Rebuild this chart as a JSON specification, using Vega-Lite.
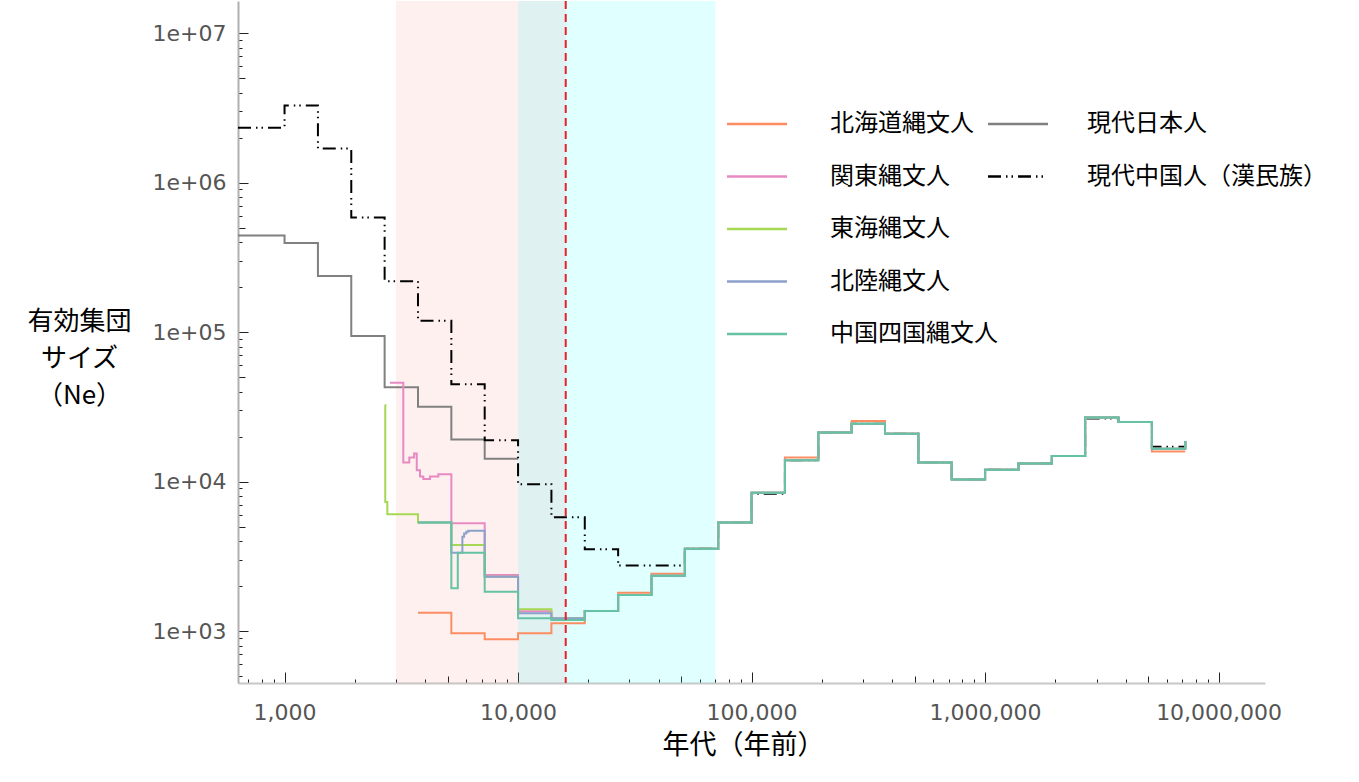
{
  "$schema": "https://vega.github.io/schema/vega-lite/v6.json",
  "width": 1027,
  "height": 682,
  "autosize": {"type": "none"},
  "padding": {"left": 238, "top": 1, "right": 94, "bottom": 99},
  "background": "white",
  "config": {"view": {"stroke": null}},
  "datasets": {
    "bands": [
      {"start": 3000, "end": 16000, "band": "pink"},
      {"start": 10000, "end": 70000, "band": "cyan"}
    ],
    "era": [{"year": 16000}],
    "modern": [
      {"group": "現代日本人", "year": 632, "ne": 443000},
      {"group": "現代日本人", "year": 1000, "ne": 395000},
      {"group": "現代日本人", "year": 1390, "ne": 237000},
      {"group": "現代日本人", "year": 1931, "ne": 94000},
      {"group": "現代日本人", "year": 2683, "ne": 42700},
      {"group": "現代日本人", "year": 3728, "ne": 31600},
      {"group": "現代日本人", "year": 5180, "ne": 19100},
      {"group": "現代日本人", "year": 7197, "ne": 14200},
      {"group": "現代日本人", "year": 10000, "ne": 14200},
      {"group": "現代中国人（漢民族）", "year": 632, "ne": 2330000},
      {"group": "現代中国人（漢民族）", "year": 1000, "ne": 3280000},
      {"group": "現代中国人（漢民族）", "year": 1390, "ne": 1690000},
      {"group": "現代中国人（漢民族）", "year": 1931, "ne": 585000},
      {"group": "現代中国人（漢民族）", "year": 2683, "ne": 219000},
      {"group": "現代中国人（漢民族）", "year": 3728, "ne": 119000},
      {"group": "現代中国人（漢民族）", "year": 5180, "ne": 44700},
      {"group": "現代中国人（漢民族）", "year": 7197, "ne": 18900},
      {"group": "現代中国人（漢民族）", "year": 10000, "ne": 9600},
      {"group": "現代中国人（漢民族）", "year": 13895, "ne": 5760},
      {"group": "現代中国人（漢民族）", "year": 19307, "ne": 3520},
      {"group": "現代中国人（漢民族）", "year": 26827, "ne": 2740},
      {"group": "現代中国人（漢民族）", "year": 37276, "ne": 2740},
      {"group": "現代中国人（漢民族）", "year": 51795, "ne": 3550},
      {"group": "現代中国人（漢民族）", "year": 71969, "ne": 5330},
      {"group": "現代中国人（漢民族）", "year": 100000, "ne": 8300},
      {"group": "現代中国人（漢民族）", "year": 138950, "ne": 13900},
      {"group": "現代中国人（漢民族）", "year": 193070, "ne": 21300},
      {"group": "現代中国人（漢民族）", "year": 268270, "ne": 24400},
      {"group": "現代中国人（漢民族）", "year": 372760, "ne": 20900},
      {"group": "現代中国人（漢民族）", "year": 517950, "ne": 13400},
      {"group": "現代中国人（漢民族）", "year": 719690, "ne": 10300},
      {"group": "現代中国人（漢民族）", "year": 1000000, "ne": 12000},
      {"group": "現代中国人（漢民族）", "year": 1389500, "ne": 13200},
      {"group": "現代中国人（漢民族）", "year": 1930700, "ne": 14800},
      {"group": "現代中国人（漢民族）", "year": 2682700, "ne": 26400},
      {"group": "現代中国人（漢民族）", "year": 3727600, "ne": 25000},
      {"group": "現代中国人（漢民族）", "year": 5179500, "ne": 17100},
      {"group": "現代中国人（漢民族）", "year": 7196900, "ne": 18700}
    ],
    "jomon": [
      {"group": "北海道縄文人", "year": 3728, "ne": 1325},
      {"group": "北海道縄文人", "year": 5180, "ne": 966},
      {"group": "北海道縄文人", "year": 7197, "ne": 880},
      {"group": "北海道縄文人", "year": 10000, "ne": 966},
      {"group": "北海道縄文人", "year": 13895, "ne": 1125},
      {"group": "北海道縄文人", "year": 19307, "ne": 1362},
      {"group": "北海道縄文人", "year": 26827, "ne": 1800},
      {"group": "北海道縄文人", "year": 37276, "ne": 2420},
      {"group": "北海道縄文人", "year": 51795, "ne": 3550},
      {"group": "北海道縄文人", "year": 71969, "ne": 5330},
      {"group": "北海道縄文人", "year": 100000, "ne": 8400},
      {"group": "北海道縄文人", "year": 138950, "ne": 14500},
      {"group": "北海道縄文人", "year": 193070, "ne": 21300},
      {"group": "北海道縄文人", "year": 268270, "ne": 25400},
      {"group": "北海道縄文人", "year": 372760, "ne": 20900},
      {"group": "北海道縄文人", "year": 517950, "ne": 13400},
      {"group": "北海道縄文人", "year": 719690, "ne": 10300},
      {"group": "北海道縄文人", "year": 1000000, "ne": 12000},
      {"group": "北海道縄文人", "year": 1389500, "ne": 13200},
      {"group": "北海道縄文人", "year": 1930700, "ne": 14800},
      {"group": "北海道縄文人", "year": 2682700, "ne": 26800},
      {"group": "北海道縄文人", "year": 3727600, "ne": 25000},
      {"group": "北海道縄文人", "year": 5179500, "ne": 15900},
      {"group": "北海道縄文人", "year": 7196900, "ne": 15900},

      {"group": "関東縄文人", "year": 2830, "ne": 45800},
      {"group": "関東縄文人", "year": 3225, "ne": 13400},
      {"group": "関東縄文人", "year": 3422, "ne": 14500},
      {"group": "関東縄文人", "year": 3589, "ne": 15400},
      {"group": "関東縄文人", "year": 3683, "ne": 11900},
      {"group": "関東縄文人", "year": 3804, "ne": 10800},
      {"group": "関東縄文人", "year": 3929, "ne": 10400},
      {"group": "関東縄文人", "year": 4197, "ne": 10800},
      {"group": "関東縄文人", "year": 4557, "ne": 11200},
      {"group": "関東縄文人", "year": 5180, "ne": 5250},
      {"group": "関東縄文人", "year": 7197, "ne": 2370},
      {"group": "関東縄文人", "year": 10000, "ne": 1355},
      {"group": "関東縄文人", "year": 13895, "ne": 1200},
      {"group": "関東縄文人", "year": 19307, "ne": 1362},
      {"group": "関東縄文人", "year": 26827, "ne": 1742},
      {"group": "関東縄文人", "year": 37276, "ne": 2340},
      {"group": "関東縄文人", "year": 51795, "ne": 3550},
      {"group": "関東縄文人", "year": 71969, "ne": 5330},
      {"group": "関東縄文人", "year": 100000, "ne": 8400},
      {"group": "関東縄文人", "year": 138950, "ne": 13900},
      {"group": "関東縄文人", "year": 193070, "ne": 21300},
      {"group": "関東縄文人", "year": 268270, "ne": 24400},
      {"group": "関東縄文人", "year": 372760, "ne": 20900},
      {"group": "関東縄文人", "year": 517950, "ne": 13400},
      {"group": "関東縄文人", "year": 719690, "ne": 10300},
      {"group": "関東縄文人", "year": 1000000, "ne": 12000},
      {"group": "関東縄文人", "year": 1389500, "ne": 13200},
      {"group": "関東縄文人", "year": 1930700, "ne": 14800},
      {"group": "関東縄文人", "year": 2682700, "ne": 26800},
      {"group": "関東縄文人", "year": 3727600, "ne": 25000},
      {"group": "関東縄文人", "year": 5179500, "ne": 16600},
      {"group": "関東縄文人", "year": 7196900, "ne": 18700},

      {"group": "東海縄文人", "year": 2690, "ne": 32500},
      {"group": "東海縄文人", "year": 2700, "ne": 7300},
      {"group": "東海縄文人", "year": 2756, "ne": 6040},
      {"group": "東海縄文人", "year": 3728, "ne": 5330},
      {"group": "東海縄文人", "year": 5180, "ne": 3760},
      {"group": "東海縄文人", "year": 7197, "ne": 2310},
      {"group": "東海縄文人", "year": 10000, "ne": 1396},
      {"group": "東海縄文人", "year": 13895, "ne": 1216},
      {"group": "東海縄文人", "year": 19307, "ne": 1362},
      {"group": "東海縄文人", "year": 26827, "ne": 1742},
      {"group": "東海縄文人", "year": 37276, "ne": 2340},
      {"group": "東海縄文人", "year": 51795, "ne": 3550},
      {"group": "東海縄文人", "year": 71969, "ne": 5330},
      {"group": "東海縄文人", "year": 100000, "ne": 8400},
      {"group": "東海縄文人", "year": 138950, "ne": 13900},
      {"group": "東海縄文人", "year": 193070, "ne": 21300},
      {"group": "東海縄文人", "year": 268270, "ne": 24400},
      {"group": "東海縄文人", "year": 372760, "ne": 20900},
      {"group": "東海縄文人", "year": 517950, "ne": 13400},
      {"group": "東海縄文人", "year": 719690, "ne": 10300},
      {"group": "東海縄文人", "year": 1000000, "ne": 12000},
      {"group": "東海縄文人", "year": 1389500, "ne": 13200},
      {"group": "東海縄文人", "year": 1930700, "ne": 14800},
      {"group": "東海縄文人", "year": 2682700, "ne": 26800},
      {"group": "東海縄文人", "year": 3727600, "ne": 25000},
      {"group": "東海縄文人", "year": 5179500, "ne": 16600},
      {"group": "東海縄文人", "year": 7196900, "ne": 18700},

      {"group": "北陸縄文人", "year": 3728, "ne": 5330},
      {"group": "北陸縄文人", "year": 5180, "ne": 3340},
      {"group": "北陸縄文人", "year": 5775, "ne": 4270},
      {"group": "北陸縄文人", "year": 5874, "ne": 4500},
      {"group": "北陸縄文人", "year": 6000, "ne": 4610},
      {"group": "北陸縄文人", "year": 6124, "ne": 4690},
      {"group": "北陸縄文人", "year": 7197, "ne": 2310},
      {"group": "北陸縄文人", "year": 10000, "ne": 1313},
      {"group": "北陸縄文人", "year": 13895, "ne": 1216},
      {"group": "北陸縄文人", "year": 19307, "ne": 1362},
      {"group": "北陸縄文人", "year": 26827, "ne": 1742},
      {"group": "北陸縄文人", "year": 37276, "ne": 2340},
      {"group": "北陸縄文人", "year": 51795, "ne": 3550},
      {"group": "北陸縄文人", "year": 71969, "ne": 5330},
      {"group": "北陸縄文人", "year": 100000, "ne": 8400},
      {"group": "北陸縄文人", "year": 138950, "ne": 13900},
      {"group": "北陸縄文人", "year": 193070, "ne": 21300},
      {"group": "北陸縄文人", "year": 268270, "ne": 24400},
      {"group": "北陸縄文人", "year": 372760, "ne": 20900},
      {"group": "北陸縄文人", "year": 517950, "ne": 13400},
      {"group": "北陸縄文人", "year": 719690, "ne": 10300},
      {"group": "北陸縄文人", "year": 1000000, "ne": 12000},
      {"group": "北陸縄文人", "year": 1389500, "ne": 13200},
      {"group": "北陸縄文人", "year": 1930700, "ne": 14800},
      {"group": "北陸縄文人", "year": 2682700, "ne": 26800},
      {"group": "北陸縄文人", "year": 3727600, "ne": 25000},
      {"group": "北陸縄文人", "year": 5179500, "ne": 16600},
      {"group": "北陸縄文人", "year": 7196900, "ne": 18700},

      {"group": "中国四国縄文人", "year": 3728, "ne": 5330},
      {"group": "中国四国縄文人", "year": 5180, "ne": 1930},
      {"group": "中国四国縄文人", "year": 5520, "ne": 3340},
      {"group": "中国四国縄文人", "year": 7197, "ne": 1830},
      {"group": "中国四国縄文人", "year": 10000, "ne": 1216},
      {"group": "中国四国縄文人", "year": 13895, "ne": 1185},
      {"group": "中国四国縄文人", "year": 19307, "ne": 1362},
      {"group": "中国四国縄文人", "year": 26827, "ne": 1742},
      {"group": "中国四国縄文人", "year": 37276, "ne": 2340},
      {"group": "中国四国縄文人", "year": 51795, "ne": 3550},
      {"group": "中国四国縄文人", "year": 71969, "ne": 5330},
      {"group": "中国四国縄文人", "year": 100000, "ne": 8400},
      {"group": "中国四国縄文人", "year": 138950, "ne": 13900},
      {"group": "中国四国縄文人", "year": 193070, "ne": 21300},
      {"group": "中国四国縄文人", "year": 268270, "ne": 24400},
      {"group": "中国四国縄文人", "year": 372760, "ne": 20900},
      {"group": "中国四国縄文人", "year": 517950, "ne": 13400},
      {"group": "中国四国縄文人", "year": 719690, "ne": 10300},
      {"group": "中国四国縄文人", "year": 1000000, "ne": 12000},
      {"group": "中国四国縄文人", "year": 1389500, "ne": 13200},
      {"group": "中国四国縄文人", "year": 1930700, "ne": 14800},
      {"group": "中国四国縄文人", "year": 2682700, "ne": 26800},
      {"group": "中国四国縄文人", "year": 3727600, "ne": 25000},
      {"group": "中国四国縄文人", "year": 5179500, "ne": 16600},
      {"group": "中国四国縄文人", "year": 7196900, "ne": 18700}
    ]
  },
  "layer": [
    {
      "data": {"name": "bands"},
      "mark": {"type": "rect"},
      "encoding": {
        "x": {
          "field": "start", "type": "quantitative",
          "scale": {"type": "log", "domain": [632, 15800000], "nice": false},
          "axis": {
            "values": [700, 800, 900, 1000, 2000, 3000, 4000, 5000, 6000, 7000, 8000, 9000, 10000, 20000, 30000, 40000, 50000, 60000, 70000, 80000, 90000, 100000, 200000, 300000, 400000, 500000, 600000, 700000, 800000, 900000, 1000000, 2000000, 3000000, 4000000, 5000000, 6000000, 7000000, 8000000, 9000000, 10000000],
            "labelExpr": "indexof([1000, 10000, 100000, 1000000, 10000000], datum.value) >= 0 ? format(datum.value, ',') : ''",
            "tickSize": {"condition": [
              {"test": "indexof([1000, 10000, 100000, 1000000, 10000000], datum.value) >= 0", "value": -11},
              {"test": "indexof([5000, 50000, 500000, 5000000], datum.value) >= 0", "value": -7}
            ], "value": -4},
            "tickColor": "#222", "tickWidth": 1,
            "domainColor": "#c8c8c8", "domainWidth": 2,
            "grid": false,
            "labelFont": "DejaVu Sans", "labelFontSize": 22, "labelColor": "#555",
            "labelPadding": 30, "labelFlush": false, "labelOverlap": false, "labelBound": false,
            "title": "年代（年前）", "titleFont": "Noto Sans CJK JP", "titleFontSize": 27, "titleFontWeight": "normal", "titleColor": "#000",
            "titleAlign": "center", "titleBaseline": "top", "titleX": 505, "titleY": 49
          }
        },
        "x2": {"field": "end"},
        "color": {"field": "band", "type": "nominal", "scale": {"domain": ["pink", "cyan"], "range": ["#ff0000", "#00ffff"]}, "legend": null},
        "opacity": {"field": "band", "type": "nominal", "scale": {"domain": ["pink", "cyan"], "range": [0.06, 0.12]}, "legend": null}
      }
    },
    {
      "data": {"name": "modern"},
      "mark": {"type": "line", "interpolate": "step-after", "strokeWidth": 2, "clip": true},
      "encoding": {
        "x": {"field": "year", "type": "quantitative", "scale": {"type": "log", "domain": [632, 15800000], "nice": false}},
        "y": {
          "field": "ne", "type": "quantitative",
          "scale": {"type": "log", "domain": [449, 16400000], "nice": false},
          "axis": {
            "values": [500, 600, 700, 800, 900, 1000, 2000, 3000, 4000, 5000, 6000, 7000, 8000, 9000, 10000, 20000, 30000, 40000, 50000, 60000, 70000, 80000, 90000, 100000, 200000, 300000, 400000, 500000, 600000, 700000, 800000, 900000, 1000000, 2000000, 3000000, 4000000, 5000000, 6000000, 7000000, 8000000, 9000000, 10000000],
            "labelExpr": "indexof([1000, 10000, 100000, 1000000, 10000000], datum.value) >= 0 ? '1e+0' + round(log(datum.value) / LN10) : ''",
            "tickSize": {"condition": [
              {"test": "indexof([1000, 10000, 100000, 1000000, 10000000], datum.value) >= 0", "value": -10},
              {"test": "indexof([5000, 50000, 500000, 5000000], datum.value) >= 0", "value": -7}
            ], "value": -4},
            "tickColor": "#222", "tickWidth": 1,
            "domainColor": "#b0b0b0", "domainWidth": 2,
            "grid": false,
            "labelFont": "DejaVu Sans", "labelFontSize": 22, "labelColor": "#555",
            "labelPadding": 22, "labelFlush": false, "labelOverlap": false, "labelBound": false,
            "title": ["有効集団", "サイズ", "（Ne）"], "titleFont": "Noto Sans CJK JP", "titleFontSize": 26, "titleFontWeight": "normal", "titleColor": "#000",
            "titleAngle": 0, "titleAlign": "center", "titleBaseline": "top", "titleX": -159, "titleY": 307, "titleLineHeight": 37
          }
        },
        "color": {
          "field": "group", "type": "nominal",
          "scale": {"domain": ["現代日本人", "現代中国人（漢民族）"], "range": ["#808080", "#000000"]},
          "legend": {
            "title": null, "orient": "none", "legendX": 768, "legendY": 111, "padding": 0,
            "symbolType": "M-3,0H3", "symbolSize": 400, "symbolStrokeWidth": 2.5,
            "labelFont": "Noto Sans CJK JP", "labelFontSize": 24, "labelColor": "#000", "labelOffset": 57, "rowPadding": 28.5, "labelLimit": 400
          }
        },
        "strokeDash": {
          "field": "group", "type": "nominal",
          "scale": {"domain": ["現代日本人", "現代中国人（漢民族）"], "range": [[1, 0], [13, 5, 1.5, 4, 1.5, 5]]},
          "legend": {
            "title": null, "orient": "none", "legendX": 768, "legendY": 111, "padding": 0,
            "symbolType": "M-3,0H3", "symbolSize": 400, "symbolStrokeWidth": 2.5,
            "labelFont": "Noto Sans CJK JP", "labelFontSize": 24, "labelColor": "#000", "labelOffset": 57, "rowPadding": 28.5, "labelLimit": 400
          }
        }
      }
    },
    {
      "data": {"name": "jomon"},
      "mark": {"type": "line", "interpolate": "step-after", "strokeWidth": 2, "clip": true},
      "encoding": {
        "x": {"field": "year", "type": "quantitative", "scale": {"type": "log", "domain": [632, 15800000], "nice": false}},
        "y": {"field": "ne", "type": "quantitative", "scale": {"type": "log", "domain": [449, 16400000], "nice": false}},
        "color": {
          "field": "group", "type": "nominal",
          "scale": {"domain": ["北海道縄文人", "関東縄文人", "東海縄文人", "北陸縄文人", "中国四国縄文人"], "range": ["#fc8d62", "#e78ac3", "#a6d854", "#8da0cb", "#66c2a5"]},
          "legend": {
            "title": null, "orient": "none", "legendX": 507, "legendY": 111, "padding": 0,
            "symbolType": "M-3,0H3", "symbolSize": 400, "symbolStrokeWidth": 2.5,
            "labelFont": "Noto Sans CJK JP", "labelFontSize": 24, "labelColor": "#000", "labelOffset": 61, "rowPadding": 28.5, "labelLimit": 400
          }
        }
      }
    },
    {
      "data": {"name": "era"},
      "mark": {"type": "rule", "color": "#e8202a", "strokeWidth": 2, "strokeDash": [8, 5]},
      "encoding": {
        "x": {"field": "year", "type": "quantitative", "scale": {"type": "log", "domain": [632, 15800000], "nice": false}}
      }
    }
  ],
  "resolve": {"scale": {"color": "independent", "opacity": "independent", "strokeDash": "independent"}}
}
